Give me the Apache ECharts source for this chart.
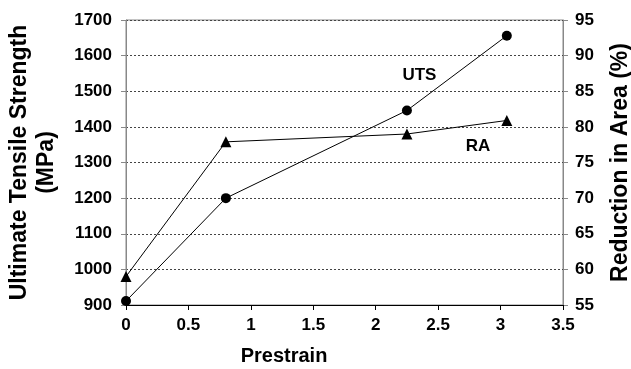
<!DOCTYPE html>
<html>
<head>
<meta charset="utf-8">
<script src="https://cdn.jsdelivr.net/npm/echarts@6/dist/echarts.min.js"></script>
<style>
  html, body { margin: 0; padding: 0; background: #fff; }
  #main { width: 631px; height: 369px; }
</style>
</head>
<body>
<div id="main"></div>
<script>
// prestrain values
var prestrain = [0, 0.8, 2.25, 3.05];
// ultimate tensile strength, MPa (left axis)
var uts = [911, 1200, 1446, 1656];
// reduction in area, % (right axis)
var ra = [59, 77.9, 79, 80.9];

var font = 'Liberation Sans, Arial, sans-serif';

function pairs(xs, ys) {
    return xs.map(function (x, i) { return [x, ys[i]]; });
}

function plain(v) { return String(v); }

function tag(text, coord) {
    return {
        coord: coord,
        symbol: 'rect',
        symbolSize: 1,
        itemStyle: { color: 'rgba(0,0,0,0)' },
        label: {
            show: true, position: 'inside', formatter: text,
            color: '#000', fontFamily: font, fontWeight: 'bold', fontSize: 17
        }
    };
}

var myChart = echarts.init(document.getElementById('main'));
myChart.setOption({
    backgroundColor: '#fff',
    animation: false,
    grid: {
        left: 126, right: 68, top: 20, bottom: 64,
        outerBoundsMode: 'none', containLabel: false,
        show: true, borderColor: '#888', borderWidth: 1
    },
    xAxis: {
        type: 'value', min: 0, max: 3.5, interval: 0.5,
        name: 'Prestrain', nameLocation: 'middle', nameGap: 41,
        nameTextStyle: { color: '#000', fontFamily: font, fontWeight: 'bold', fontSize: 20, padding: [0, 121, 0, 0] },
        axisLine: { lineStyle: { color: '#000', width: 1 } },
        axisTick: { show: true, length: 5, lineStyle: { color: '#000' } },
        axisLabel: { color: '#000', fontFamily: font, fontWeight: 'bold', fontSize: 17, margin: 12, formatter: plain },
        splitLine: { show: false }
    },
    yAxis: [{
        type: 'value', min: 900, max: 1700, interval: 100,
        name: 'Ultimate Tensile Strength\n(MPa)', nameLocation: 'middle', nameGap: 66, nameRotate: 90,
        nameTextStyle: { color: '#000', fontFamily: font, fontWeight: 'bold', fontSize: 23, lineHeight: 27 },
        axisLine: { show: true, lineStyle: { color: '#888' } },
        axisTick: { show: true, length: 5, lineStyle: { color: '#888' } },
        axisLabel: { color: '#000', fontFamily: font, fontWeight: 'bold', fontSize: 17, margin: 14, formatter: plain },
        splitLine: { show: true, lineStyle: { color: '#444', type: [2, 2], width: 1 } }
    }, {
        type: 'value', min: 55, max: 95, interval: 5, position: 'right',
        name: 'Reduction in Area (%)', nameLocation: 'middle', nameGap: 46, nameRotate: 90,
        nameTextStyle: { color: '#000', fontFamily: font, fontWeight: 'bold', fontSize: 23 },
        axisLine: { show: true, lineStyle: { color: '#888' } },
        axisTick: { show: true, length: 5, lineStyle: { color: '#888' } },
        axisLabel: { color: '#000', fontFamily: font, fontWeight: 'bold', fontSize: 17, margin: 12, formatter: plain },
        splitLine: { show: false }
    }],
    series: [{
        name: 'UTS', type: 'line', yAxisIndex: 0,
        data: pairs(prestrain, uts),
        symbol: 'circle', symbolSize: 10,
        lineStyle: { color: '#000', width: 1 },
        itemStyle: { color: '#000' },
        markPoint: { data: [tag('UTS', [2.35, 1546])] }
    }, {
        name: 'RA', type: 'line', yAxisIndex: 1,
        data: pairs(prestrain, ra),
        symbol: 'triangle', symbolSize: 11,
        lineStyle: { color: '#000', width: 1 },
        itemStyle: { color: '#000' },
        markPoint: { data: [tag('RA', [2.82, 77.3])] }
    }]
});
</script>
</body>
</html>
